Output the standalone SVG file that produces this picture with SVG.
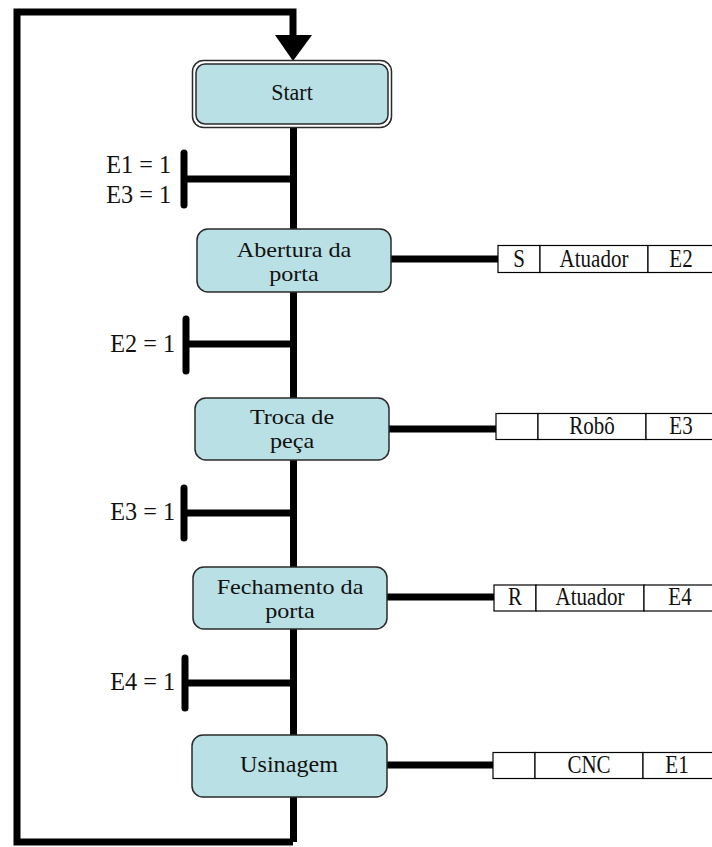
<svg xmlns="http://www.w3.org/2000/svg" width="712" height="847" viewBox="0 0 712 847">
<style>
.thick{fill:none;stroke:#000;stroke-width:7;stroke-linecap:butt}
.bar{fill:none;stroke:#000;stroke-width:7;stroke-linecap:round}
.box{fill:#B9E0E4;stroke:#2a2a2a;stroke-width:1.5}
.cell{fill:#fff;stroke:#000;stroke-width:1.2}
text{font-family:"Liberation Serif","Times New Roman",serif;fill:#111}
.lbl{font-size:21px;text-anchor:middle}
.cnd{font-size:22px;text-anchor:end}
.act{font-size:21px;text-anchor:middle}
</style>
<rect width="712" height="847" fill="#fff"/>
<g id="connectors">
<path class="thick" d="M293,842 H17 V12 H293 V40"/>
<polygon points="275,35 312,35 293,61" fill="#000"/>
<line class="thick" x1="293.5" y1="60" x2="293.5" y2="842"/>
<line class="thick" x1="184" y1="179" x2="293" y2="179"/>
<line class="bar" x1="184" y1="153" x2="184" y2="205"/>
<line class="thick" x1="186" y1="344" x2="293" y2="344"/>
<line class="bar" x1="186" y1="319" x2="186" y2="371"/>
<line class="thick" x1="184" y1="513" x2="293" y2="513"/>
<line class="bar" x1="184" y1="488" x2="184" y2="538"/>
<line class="thick" x1="185" y1="683" x2="293" y2="683"/>
<line class="bar" x1="185" y1="658" x2="185" y2="708"/>
<line class="thick" x1="391" y1="259" x2="498" y2="259"/>
<line class="thick" x1="389" y1="429" x2="496" y2="429"/>
<line class="thick" x1="387" y1="597" x2="494" y2="597"/>
<line class="thick" x1="387" y1="765" x2="493" y2="765"/>
</g>
<g id="cond1">
<g transform="translate(171,173) scale(1.1,1.15)"><text class="cnd">E1 = 1</text></g>
<g transform="translate(171,203) scale(1.1,1.15)"><text class="cnd">E3 = 1</text></g>
</g>
<g id="cond2"><g transform="translate(175,352) scale(1.1,1.15)"><text class="cnd">E2 = 1</text></g></g>
<g id="cond3"><g transform="translate(175,520) scale(1.1,1.15)"><text class="cnd">E3 = 1</text></g></g>
<g id="cond4"><g transform="translate(175,690) scale(1.1,1.15)"><text class="cnd">E4 = 1</text></g></g>
<g id="start">
<rect x="192.5" y="60.5" width="199" height="67" rx="11" fill="#fff" stroke="#2a2a2a" stroke-width="1.5"/>
<rect x="196" y="64" width="192" height="60" rx="9" class="box"/>
<g transform="translate(292,100) scale(1.1,1.15)"><text class="lbl" style="font-size:20px">Start</text></g>
</g>
<g id="abertura">
<rect x="197" y="229" width="194" height="63" rx="11" class="box"/>
<g transform="translate(294,257) scale(1.15,1)"><text class="lbl">Abertura da</text></g>
<g transform="translate(294,281) scale(1.15,1)"><text class="lbl">porta</text></g>
</g>
<g id="troca">
<rect x="195" y="398" width="194" height="62" rx="11" class="box"/>
<g transform="translate(292,424) scale(1.15,1)"><text class="lbl">Troca de</text></g>
<g transform="translate(292,448) scale(1.15,1)"><text class="lbl">peça</text></g>
</g>
<g id="fechamento">
<rect x="193" y="567" width="194" height="62" rx="11" class="box"/>
<g transform="translate(290,594) scale(1.15,1)"><text class="lbl">Fechamento da</text></g>
<g transform="translate(290,618) scale(1.15,1)"><text class="lbl">porta</text></g>
</g>
<g id="usinagem">
<rect x="192" y="735" width="195" height="62" rx="11" class="box"/>
<g transform="translate(289,772) scale(1.15,1.1)"><text class="lbl">Usinagem</text></g>
</g>
<g id="action1">
<rect class="cell" x="498" y="245.5" width="42" height="27"/>
<rect class="cell" x="540" y="245.5" width="108" height="27"/>
<rect class="cell" x="648" y="245.5" width="70" height="27"/>
<g transform="translate(519,267) scale(1,1.15)"><text class="act">S</text></g>
<g transform="translate(594,267) scale(1,1.15)"><text class="act">Atuador</text></g>
<g transform="translate(681,267) scale(1,1.15)"><text class="act">E2</text></g>
</g>
<g id="action2">
<rect class="cell" x="496" y="413.5" width="42" height="26"/>
<rect class="cell" x="538" y="413.5" width="108" height="26"/>
<rect class="cell" x="646" y="413.5" width="72" height="26"/>
<g transform="translate(592,434) scale(1,1.15)"><text class="act">Robô</text></g>
<g transform="translate(681,434) scale(1,1.15)"><text class="act">E3</text></g>
</g>
<g id="action3">
<rect class="cell" x="494" y="585" width="42" height="26"/>
<rect class="cell" x="536" y="585" width="108" height="26"/>
<rect class="cell" x="644" y="585" width="74" height="26"/>
<g transform="translate(515,605) scale(1,1.15)"><text class="act">R</text></g>
<g transform="translate(590,605) scale(1,1.15)"><text class="act">Atuador</text></g>
<g transform="translate(680,605) scale(1,1.15)"><text class="act">E4</text></g>
</g>
<g id="action4">
<rect class="cell" x="493" y="752.5" width="42" height="26"/>
<rect class="cell" x="535" y="752.5" width="108" height="26"/>
<rect class="cell" x="643" y="752.5" width="75" height="26"/>
<g transform="translate(589,773) scale(1,1.15)"><text class="act">CNC</text></g>
<g transform="translate(677,773) scale(1,1.15)"><text class="act">E1</text></g>
</g>
</svg>
